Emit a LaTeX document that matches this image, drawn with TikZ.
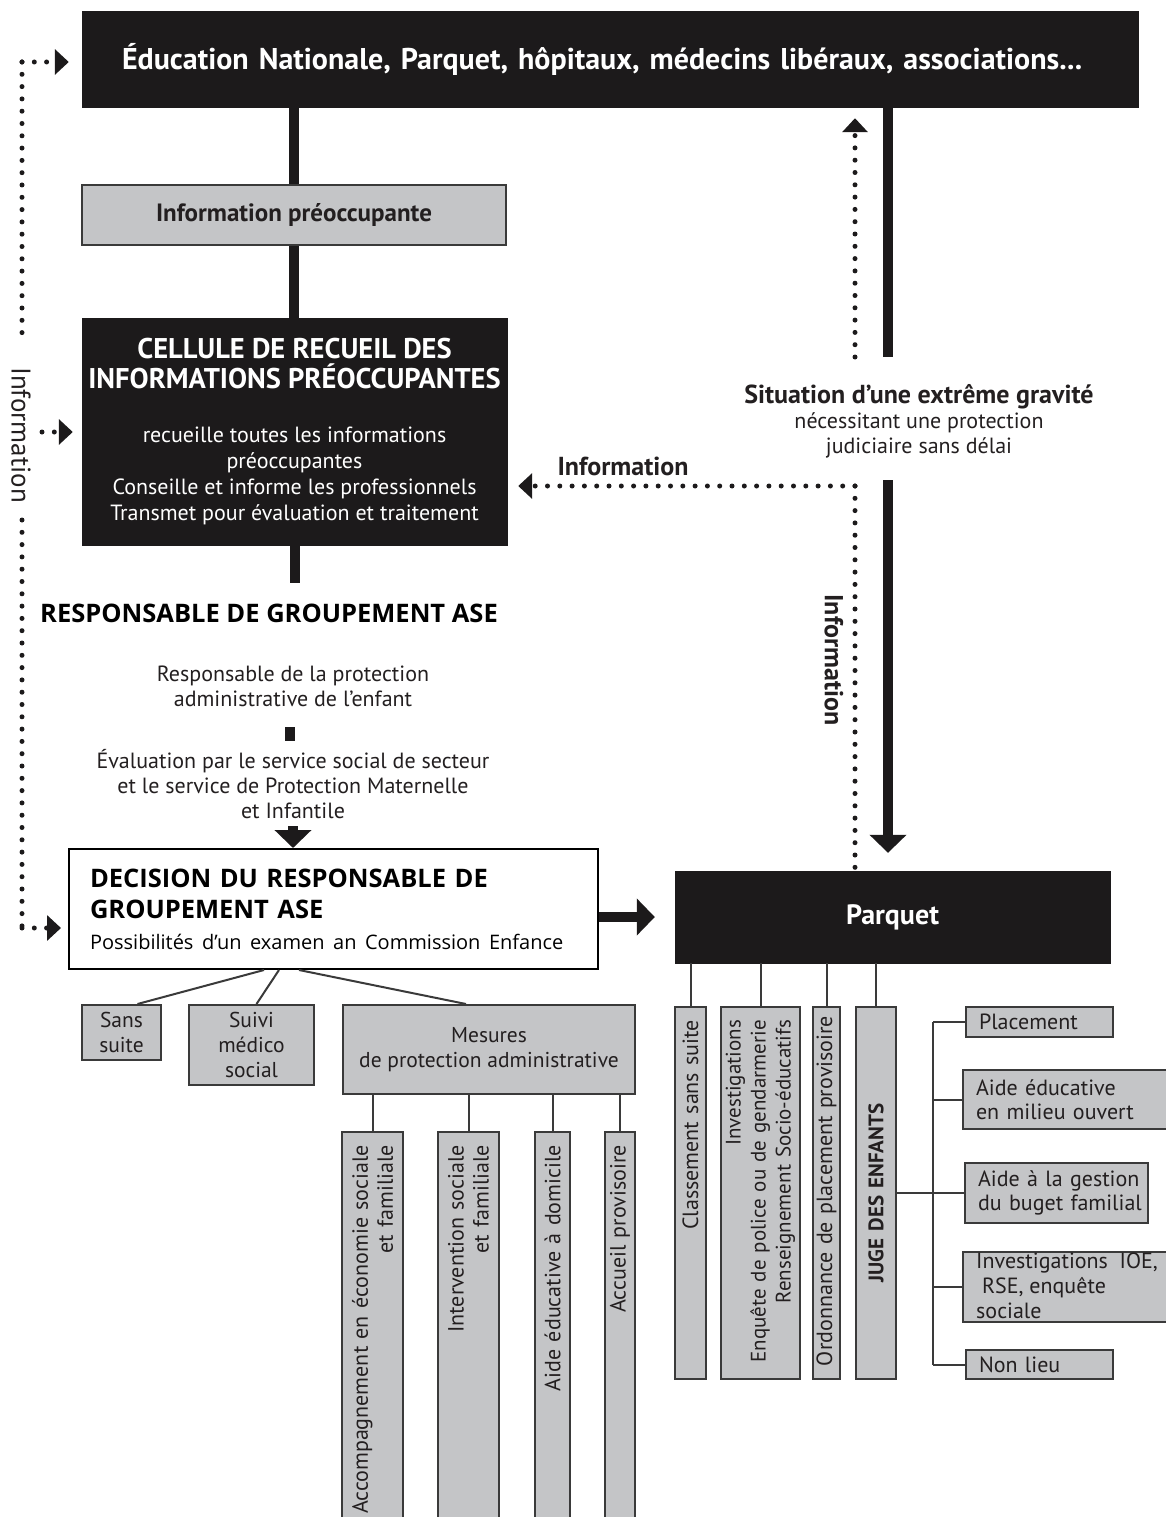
\documentclass[tikz,border=0pt]{standalone}
\usepackage{fontspec}
\setmainfont{PT Sans}
\newfontfamily\handfont{Open Sans}
\usepackage{tikz}
\usetikzlibrary{calc}
\usetikzlibrary{arrows.meta}

\definecolor{boxblack}{HTML}{1C1A1B}
\definecolor{boxgray}{HTML}{C4C5C7}
\definecolor{boxline}{HTML}{3A3A3A}
\definecolor{ink}{HTML}{231F20}
\newcommand\fsz[2]{\fontsize{#1}{#2}\selectfont}

\tikzset{
  blackbox/.style={draw=boxblack, fill=boxblack, text=white, inner sep=0pt, align=center},
  graybox/.style={draw=boxline, line width=2pt, fill=boxgray, text=ink, inner sep=0pt},
  smallbox/.style={graybox, align=center, font=\fsz{21.5}{25}},
  colbox/.style={graybox, rotate=90, inner xsep=13pt, align=right, font=\fsz{22}{25}},
  sidebox/.style={graybox, inner xsep=13pt, align=left, font=\fsz{22}{24.5}},
  plaintext/.style={text=ink, inner sep=0pt, align=center, font=\fsz{22}{25}},
  thickline/.style={draw=boxblack, line width=10pt},
  thickarrow/.style={thickline, -{Triangle[length=18pt,width=36pt]}},
  infoline/.style={draw=boxblack, line width=5pt, line cap=round, dash pattern=on 0pt off 12.3pt},
  infoarrow/.style={infoline, -{Triangle[length=14pt,width=25pt]}},
  thinline/.style={draw=boxline, line width=2pt},
}

\begin{document}
\begin{tikzpicture}[x=1pt,y=-1pt]
  % Boundary
  \path[use as bounding box] (0,0) rectangle (1166,1517);
  \clip (0,0) rectangle (1166,1517);
  % Main column
  \node[blackbox, minimum width=1056, minimum height=96, inner xsep=40pt, text width=976, align=left, font=\fsz{30}{34}\bfseries] (edu) at (610,59) {\mbox{Éducation Nationale, Parquet, hôpitaux, médecins libéraux, associations...}};
  \node[graybox, minimum width=424, minimum height=60, font=\fsz{25}{28}\bfseries] (info) at (294,215) {Information préoccupante};
  \node[blackbox, minimum width=425, minimum height=227, font=\fsz{22}{25.7}] (crip) at (294.5,431.5)
    {\fsz{28.5}{30}\bfseries CELLULE DE RECUEIL DES\\[4.3pt]
     \fsz{28.5}{30}\bfseries INFORMATIONS PRÉOCCUPANTES\\[28.3pt]
     recueille toutes les informations\\
     préoccupantes\\
     Conseille et informe les professionnels\\
     Transmet pour évaluation et traitement};
  \draw[thickline] (edu.south -| info.north) -- (info.north);
  \draw[thickline] (info.south) -- (crip.north -| info.south);
  \draw[thickline] (crip.south) -- ($(crip.south)+(0,38)$);
  % Groupement ASE
  \node[text=black, inner sep=0pt, font=\handfont\fsz{25.5}{28}\bfseries] (ase) at (269,613) {RESPONSABLE DE GROUPEMENT ASE};
  \node[plaintext] (respo) at (293,686) {Responsable de la protection\\administrative de l’enfant};
  \node[fill=boxblack, inner sep=0pt, minimum width=10, minimum height=14] (tick) at (290,734) {};
  \node[plaintext] (eval) at (293,784) {Évaluation par le service social de secteur\\et le service de Protection Maternelle\\et Infantile};
  \node[draw=black, line width=2pt, fill=white, minimum width=529, minimum height=120, inner xsep=21pt, text width=487, align=left, font=\handfont\fsz{25.5}{31}\bfseries] (decision) at (333.5,909)
    {DECISION DU RESPONSABLE DE\\GROUPEMENT ASE\\{\mdseries\fsz{20}{31}Possibilités d’un examen an Commission Enfance}};
  \draw[thickarrow] ($(decision.north -| eval.south)+(0,-22)$) -- (decision.north -| eval.south);
  % Administrative branch
  \node[smallbox, minimum width=79, minimum height=55] (sans) at (121.5,1032.5) {Sans\\suite};
  \node[smallbox, minimum width=125, minimum height=80] (suivi) at (251.5,1045) {Suivi\\médico\\social};
  \node[smallbox, minimum width=292, minimum height=89] (mesures) at (489,1049.5) {Mesures\\de protection administrative};
  \draw[thinline] ($(decision.south west)+(196,0)$) -- ($(sans.north)+(16,0)$);
  \draw[thinline] ($(decision.south west)+(211,0)$) -- ($(suivi.north)+(5,0)$);
  \draw[thinline] ($(decision.south west)+(231,0)$) -- ($(mesures.north)+(-23,0)$);
  % rotated boxes: east is the top end
  \node[colbox, minimum width=398, minimum height=61, text width=372] (accomp) at (372.5,1331) {\mbox{Accompagnement en économie sociale}\\et familiale};
  \node[colbox, minimum width=398, minimum height=61, text width=372] (interv) at (468.5,1331) {Intervention sociale\\et familiale};
  \node[colbox, minimum width=398, minimum height=35, text width=372] (aidedom) at (552.5,1331) {Aide éducative à domicile};
  \node[colbox, minimum width=398, minimum height=30, text width=372] (accueil) at (620,1331) {Accueil provisoire};
  \draw[thinline] (accomp.east |- mesures.south) -- (accomp.east);
  \draw[thinline] (interv.east |- mesures.south) -- (interv.east);
  \draw[thinline] (aidedom.east |- mesures.south) -- (aidedom.east);
  \draw[thinline] (accueil.east |- mesures.south) -- (accueil.east);
  % Judicial branch
  \node[blackbox, minimum width=435, minimum height=92, font=\fsz{28}{30}\bfseries] (parquet) at (892.5,917) {Parquet};
  \draw[thickarrow] (decision.east |- parquet.west) -- ($(parquet.west)+(-20,0)$);
  \coordinate (gtop) at (888,357);
  \coordinate (gbot) at (888,480);
  \draw[thickline] (edu.south -| gtop) -- (gtop);
  \draw[thickarrow] (gbot) -- ($(parquet.north -| gbot)+(0,-18)$);
  \node[plaintext] (gravite) at (919,421) {{\bfseries\fsz{26}{25}Situation d’une extrême gravité}\\nécessitant une protection\\judiciaire sans délai};
  \node[colbox, minimum width=372, minimum height=31, text width=346] (classement) at (690.5,1193) {Classement sans suite};
  \node[colbox, minimum width=372, minimum height=79, text width=346, font=\fsz{21}{25}] (investig) at (760.5,1193) {Investigations\\\mbox{Enquête de police ou de gendarmerie}\\\mbox{Renseignement Socio-éducatifs}};
  \node[colbox, minimum width=372, minimum height=27, text width=346] (ordonnance) at (826.5,1193) {\mbox{Ordonnance de placement provisoire}};
  \node[colbox, minimum width=372, minimum height=40, text width=346, align=center, font=\fsz{21}{25}\bfseries] (juge) at (876,1193) {JUGE DES ENFANTS};
  \draw[thinline] (classement.east |- parquet.south) -- (classement.east);
  \draw[thinline] (investig.east |- parquet.south) -- (investig.east);
  \draw[thinline] (ordonnance.east |- parquet.south) -- (ordonnance.east);
  \draw[thinline] (juge.east |- parquet.south) -- (juge.east);
  % Juge des enfants
  \node[sidebox, minimum width=147, minimum height=30, text width=121] (placement) at (1039.5,1022) {Placement};
  \node[sidebox, minimum width=212, minimum height=59, text width=186] (aemo) at (1069,1099.5) {Aide éducative\\en milieu ouvert};
  \node[sidebox, minimum width=183, minimum height=60, text width=157] (gestion) at (1056.5,1193) {\mbox{Aide à la gestion}\\\mbox{du buget familial}};
  \node[graybox, minimum width=212, minimum height=70] (ioe) at (1069,1287) {};
  \node[anchor=north west, inner sep=0pt, text=ink, align=left, font=\fsz{22}{25}] (ioetext) at (976,1253) {Investigations\ \ IOE,\\\ RSE, enquête\\sociale};
  \node[sidebox, minimum width=147, minimum height=29, text width=121] (nonlieu) at (1039.5,1364.5) {Non lieu};
  \coordinate (bus) at (933,1193);
  \draw[thinline] (juge.south) -- (bus);
  \draw[thinline] (bus |- placement.west) -- (bus |- nonlieu.west);
  \draw[thinline] (bus |- placement.west) -- (placement.west);
  \draw[thinline] (bus |- aemo.west) -- (aemo.west);
  \draw[thinline] (bus |- gestion.west) -- (gestion.west);
  \draw[thinline] (bus |- ioe.west) -- (ioe.west);
  \draw[thinline] (bus |- nonlieu.west) -- (nonlieu.west);
  % Information flows
  \coordinate (dtop) at (855,357);
  \coordinate (dmid) at (855,486);
  \draw[infoarrow] (dtop) -- ($(edu.south -| dtop)+(0,11)$);
  \draw[infoarrow] (dmid) -- ($(crip.east |- dmid)+(11,0)$);
  \draw[infoline] (dmid) -- (parquet.north -| dmid);
  \node[text=ink, inner sep=0pt, font=\fsz{26}{28}\bfseries] (infoh) at (623,466) {Information};
  \node[text=ink, inner sep=0pt, rotate=-90, font=\fsz{26}{28}\bfseries] (infov) at (834,660) {Information};
  \coordinate (ltop) at (22,62);
  \coordinate (lbot) at (22,928);
  \draw[infoarrow] (ltop) -- ($(edu.west |- ltop)+(-13,0)$);
  \draw[infoline] (ltop) -- (22,342);
  \draw[infoline] (22,520) -- (lbot);
  \draw[infoarrow] (42,432) -- ($(crip.west |- 0,432)+(-9,0)$);
  \draw[infoarrow] (lbot) -- ($(decision.west |- lbot)+(-7,0)$);
  \node[text=ink, inner sep=0pt, rotate=-90, font=\fsz{27}{28}] (infol) at (21,435) {Information};
\end{tikzpicture}
\end{document}
